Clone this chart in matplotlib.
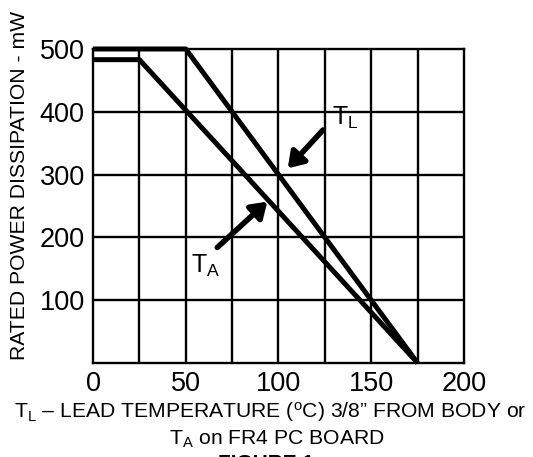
import matplotlib
matplotlib.use("Agg")
import matplotlib.pyplot as plt

plt.rcParams['font.family'] = ['Liberation Sans', 'DejaVu Sans']
plt.rcParams['mathtext.fontset'] = 'custom'
plt.rcParams['mathtext.rm'] = 'Liberation Sans'
plt.rcParams['mathtext.it'] = 'Liberation Sans'

# derating curves (temperature degC, power mW)
tl_temp = [0, 50, 175]
tl_power = [500, 500, 0]
ta_temp = [0, 25, 175]
ta_power = [483, 483, 0]

x_ticks = [0, 50, 100, 150, 200]
y_ticks = [100, 200, 300, 400, 500]
x_grid = [25, 50, 75, 100, 125, 150, 175]

fig = plt.figure(figsize=(5.33, 4.57), dpi=100)
ax = fig.add_axes([0.1745, 0.2057, 0.696, 0.6871])

for xv in x_grid:
    ax.axvline(xv, color='black', lw=1.7, zorder=1)
for yv in y_ticks[:-1]:
    ax.axhline(yv, color='black', lw=1.7, zorder=1)

ax.plot(tl_temp, tl_power, color='black', lw=3.6, solid_capstyle='butt', zorder=3, clip_on=False)
ax.plot(ta_temp, ta_power, color='black', lw=3.6, solid_capstyle='butt', zorder=3, clip_on=False)

ax.set_xlim(0, 200)
ax.set_ylim(0, 500)
ax.set_xticks(x_ticks)
ax.set_yticks(y_ticks)
ax.tick_params(length=0, labelsize=19.5)
ax.tick_params(axis='x', pad=6)
ax.tick_params(axis='y', pad=6)
for s in ax.spines.values():
    s.set_linewidth(1.7)

arrow = dict(arrowstyle='-|>,head_length=0.9,head_width=0.6', color='black', lw=4,
             shrinkA=0, shrinkB=0)
ax.annotate('', xy=(105, 310), xytext=(124, 371), arrowprops=arrow)
ax.annotate('', xy=(94, 257), xytext=(67, 184), arrowprops=arrow)
ax.text(129, 369, r'T$_{\rm L}$', fontsize=18, ha='left', va='bottom')
ax.text(53, 134, r'T$_{\rm A}$', fontsize=18, ha='left', va='bottom')

ax.set_ylabel('RATED POWER DISSIPATION - mW', fontsize=15.2)
ax.yaxis.set_label_coords(-0.172, 0.567)
fig.text(0.507, 0.073, r'T$_{\rm L}$ – LEAD TEMPERATURE ($^{\rm o}$C) 3/8” FROM BODY or',
         fontsize=15.2, ha='center', va='bottom')
fig.text(0.52, 0.016, r'T$_{\rm A}$ on FR4 PC BOARD', fontsize=15.2, ha='center', va='bottom')
fig.text(0.5, -0.035, 'FIGURE 1', fontsize=15, fontweight='bold', ha='center', va='bottom')

fig.savefig('out.png', dpi=100)
